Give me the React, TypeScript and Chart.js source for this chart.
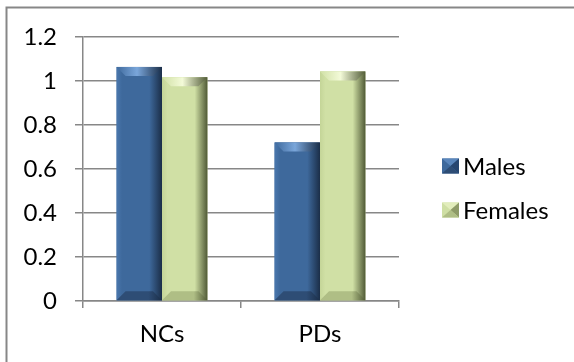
import React, { useEffect, useRef } from "react";
import { Chart, registerables } from "chart.js";

Chart.register(...registerables);

const categories = ["NCs", "PDs"];
const seriesNames = ["Males", "Females"];
const males = [1.064, 0.72];
const females = [1.017, 1.043];
const yTicks = [0, 0.2, 0.4, 0.6, 0.8, 1, 1.2];
const yTickLabels = ["0", "0.2", "0.4", "0.6", "0.8", "1", "1.2"];

const palettes = [
  { base: "#3E699C", left: "#4A77AD", mid: "#3E699C", right: "#1B2E48", top: "#7AA6DA", bottom: "#2E4D75", lgA: "#5A86BC", lgB: "#274670" },
  { base: "#CFDFA4", left: "#C4D598", mid: "#D0E0A5", right: "#505A36", top: "#F3FAD8", bottom: "#AFBE85", lgA: "#E2EDBC", lgB: "#8E9B68" },
];

const FONT = "Lato, 'Open Sans', sans-serif";

const decoPlugin = {
  id: "deco",
  beforeDraw(chart: any) {
    const ctx = chart.ctx;
    ctx.save();
    ctx.strokeStyle = "#878787";
    ctx.lineWidth = 2;
    ctx.beginPath();
    ctx.moveTo(6.5, 2000);
    ctx.lineTo(6.5, 7.5);
    ctx.lineTo(2000, 7.5);
    ctx.stroke();
    ctx.restore();
  },
  afterDatasetsDraw(chart: any) {
    const ctx = chart.ctx;
    ctx.save();
    chart.data.datasets.forEach((_ds: any, di: number) => {
      const meta = chart.getDatasetMeta(di);
      const pal = palettes[di];
      meta.data.forEach((el: any) => {
        const { x, y, base, width } = el.getProps(["x", "y", "base", "width"], true);
        const l = x - width / 2;
        const r = x + width / 2;
        const t = Math.min(y, base);
        const b = Math.max(y, base);
        const bv = Math.min(9, (b - t) / 2);
        const g = ctx.createLinearGradient(l, 0, r, 0);
        g.addColorStop(0, pal.left);
        g.addColorStop(0.12, pal.mid);
        g.addColorStop(0.72, pal.mid);
        g.addColorStop(1, pal.right);
        ctx.fillStyle = g;
        ctx.fillRect(l, t, r - l, b - t);
        const gt = ctx.createLinearGradient(l, 0, r, 0);
        gt.addColorStop(0, pal.mid);
        gt.addColorStop(0.45, pal.top);
        gt.addColorStop(1, pal.right);
        ctx.fillStyle = gt;
        ctx.beginPath();
        ctx.moveTo(l, t);
        ctx.lineTo(r, t);
        ctx.lineTo(r - bv, t + bv);
        ctx.lineTo(l + bv, t + bv);
        ctx.closePath();
        ctx.fill();
        const gb = ctx.createLinearGradient(l, 0, r, 0);
        gb.addColorStop(0, pal.bottom);
        gb.addColorStop(0.7, pal.bottom);
        gb.addColorStop(1, pal.right);
        ctx.fillStyle = gb;
        ctx.beginPath();
        ctx.moveTo(l, b);
        ctx.lineTo(r, b);
        ctx.lineTo(r - bv, b - bv);
        ctx.lineTo(l + bv, b - bv);
        ctx.closePath();
        ctx.fill();
      });
    });
    ctx.restore();
  },
  afterDraw(chart: any) {
    const ctx = chart.ctx;
    ctx.save();
    const centers = [166, 210];
    chart.data.datasets.forEach((ds: any, di: number) => {
      const pal = palettes[di];
      const cy = centers[di];
      const x0 = 442, w = 17, h = 15;
      const y0 = cy - h / 2;
      ctx.fillStyle = pal.base;
      ctx.fillRect(x0, y0, w, h);
      const cx = x0 + w / 2, cyy = y0 + h / 2;
      ctx.fillStyle = pal.lgA;
      ctx.beginPath(); ctx.moveTo(x0, y0); ctx.lineTo(x0 + w, y0); ctx.lineTo(cx, cyy); ctx.closePath(); ctx.fill();
      ctx.fillStyle = pal.lgB;
      ctx.beginPath(); ctx.moveTo(x0 + w, y0); ctx.lineTo(x0 + w, y0 + h); ctx.lineTo(cx, cyy); ctx.closePath(); ctx.fill();
      ctx.fillStyle = pal.bottom;
      ctx.beginPath(); ctx.moveTo(x0, y0 + h); ctx.lineTo(x0 + w, y0 + h); ctx.lineTo(cx, cyy); ctx.closePath(); ctx.fill();
      ctx.fillStyle = "#000";
      ctx.font = `24px ${FONT}`;
      ctx.textBaseline = "middle";
      ctx.textAlign = "left";
      ctx.fillText(ds.label, 463, cy + 1);
    });
    ctx.restore();
  },
};

export default function App() {
  const ref = useRef<HTMLCanvasElement>(null);
  useEffect(() => {
    if (!ref.current) return;
    const chart = new Chart(ref.current, {
      type: "bar",
      data: {
        labels: categories,
        datasets: [
          { label: seriesNames[0], data: males, backgroundColor: palettes[0].base },
          { label: seriesNames[1], data: females, backgroundColor: palettes[1].base },
        ],
      },
      options: {
        animation: false,
        responsive: false,
        devicePixelRatio: 1,
        layout: { padding: { top: 37, right: 175, left: 0, bottom: 0 } },
        datasets: { bar: { categoryPercentage: 0.575, barPercentage: 1 } },
        plugins: { legend: { display: false }, tooltip: { enabled: false } },
        scales: {
          x: {
            grid: { offset: true, drawOnChartArea: false, tickLength: 7, color: "#878787", lineWidth: 1.5 },
            border: { color: "#878787", width: 1.5 },
            ticks: { color: "#000", font: { family: FONT, size: 24 }, padding: 12 },
            afterFit: (s: any) => { s.height = 61; },
          },
          y: {
            min: 0,
            max: 1.2,
            grid: { tickLength: 8, color: "#878787", lineWidth: 1.5 },
            border: { color: "#878787", width: 1.5 },
            ticks: {
              color: "#000",
              font: { family: FONT, size: 24 },
              padding: 18,
              callback: (_v: any, i: number) => yTickLabels[i],
            },
            afterBuildTicks: (s: any) => { s.ticks = yTicks.map((v) => ({ value: v })); },
            afterFit: (s: any) => { s.width = 83; },
          },
        },
      },
      plugins: [decoPlugin],
    });
    return () => chart.destroy();
  }, []);
  return (
    <div style={{ position: "fixed", left: 0, top: 0, width: 574, height: 362, background: "#fff" }}>
      <canvas ref={ref} width={574} height={362} style={{ width: 574, height: 362, display: "block" }} />
    </div>
  );
}
